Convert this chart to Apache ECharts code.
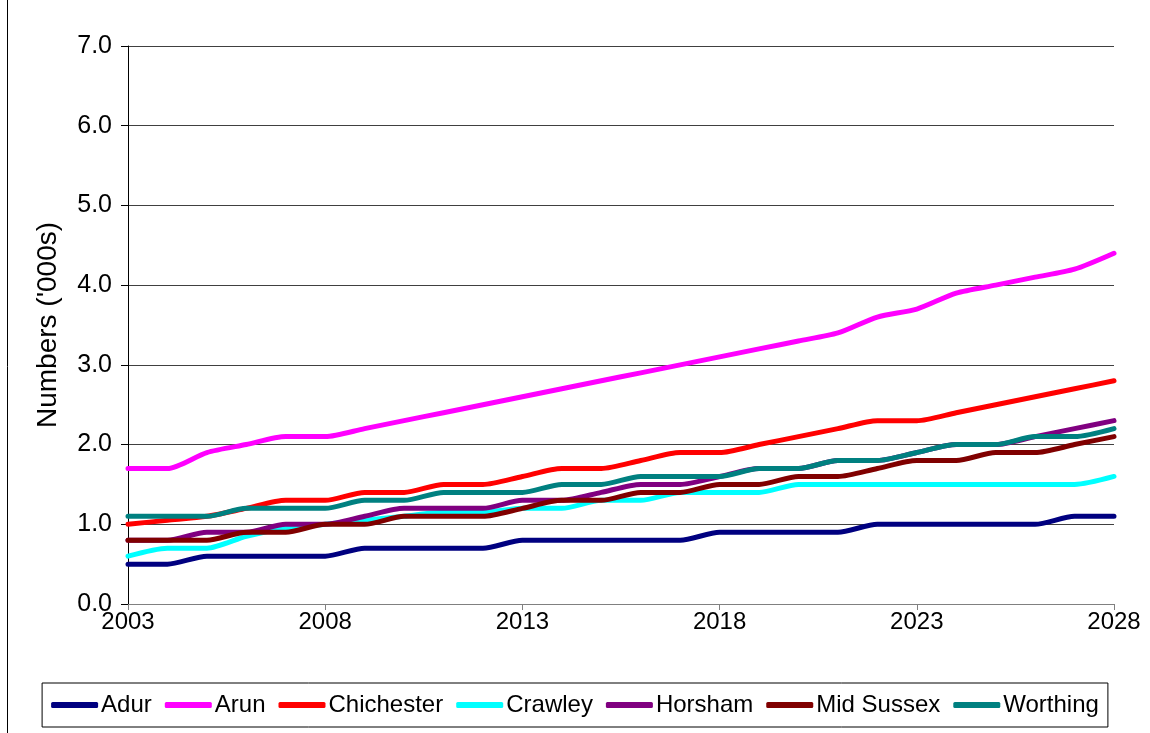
<!DOCTYPE html>
<html>
<head>
<meta charset="utf-8">
<script src="https://cdn.jsdelivr.net/npm/echarts@6/dist/echarts.min.js"></script>
<style>
html,body{margin:0;padding:0;background:#fff;}
#chart{width:1150px;height:733px;}
</style>
</head>
<body>
<div id="chart"></div>
<script>
const years = ['2003','2004','2005','2006','2007','2008','2009','2010','2011','2012','2013','2014','2015','2016','2017','2018','2019','2020','2021','2022','2023','2024','2025','2026','2027','2028'];
const adur       = [0.5,0.5,0.6,0.6,0.6,0.6,0.7,0.7,0.7,0.7,0.8,0.8,0.8,0.8,0.8,0.9,0.9,0.9,0.9,1.0,1.0,1.0,1.0,1.0,1.1,1.1];
const arun       = [1.7,1.7,1.9,2.0,2.1,2.1,2.2,2.3,2.4,2.5,2.6,2.7,2.8,2.9,3.0,3.1,3.2,3.3,3.4,3.6,3.7,3.9,4.0,4.1,4.2,4.4];
const chichester = [1.0,1.05,1.1,1.2,1.3,1.3,1.4,1.4,1.5,1.5,1.6,1.7,1.7,1.8,1.9,1.9,2.0,2.1,2.2,2.3,2.3,2.4,2.5,2.6,2.7,2.8];
const crawley    = [0.6,0.7,0.7,0.85,0.95,1.0,1.05,1.1,1.15,1.15,1.2,1.2,1.3,1.3,1.4,1.4,1.4,1.5,1.5,1.5,1.5,1.5,1.5,1.5,1.5,1.6];
const horsham    = [0.8,0.8,0.9,0.9,1.0,1.0,1.1,1.2,1.2,1.2,1.3,1.3,1.4,1.5,1.5,1.6,1.7,1.7,1.8,1.8,1.9,2.0,2.0,2.1,2.2,2.3];
const midSussex  = [0.8,0.8,0.8,0.9,0.9,1.0,1.0,1.1,1.1,1.1,1.2,1.3,1.3,1.4,1.4,1.5,1.5,1.6,1.6,1.7,1.8,1.8,1.9,1.9,2.0,2.1];
const worthing   = [1.1,1.1,1.1,1.2,1.2,1.2,1.3,1.3,1.4,1.4,1.4,1.5,1.5,1.6,1.6,1.6,1.7,1.7,1.8,1.8,1.9,2.0,2.0,2.1,2.1,2.2];

const seriesNames = ['Adur','Arun','Chichester','Crawley','Horsham','Mid Sussex','Worthing'];
const seriesData = [adur, arun, chichester, crawley, horsham, midSussex, worthing];
const colors = ['#000080','#FF00FF','#FF0000','#00FFFF','#800080','#800000','#008080'];

const FONT = '"Liberation Sans", Arial, sans-serif';

const chart = echarts.init(document.getElementById('chart'), null, {renderer:'canvas'});
chart.setOption({
  animation: false,
  backgroundColor: '#fff',
  color: colors,
  textStyle: {fontFamily: FONT},
  grid: {left: 128, right: 36, top: 46, bottom: 129, containLabel: false},
  graphic: [{
    type: 'line', shape: {x1: 7.5, y1: 0, x2: 7.5, y2: 733},
    style: {stroke: '#000', lineWidth: 1}, silent: true
  }],
  legend: {
    data: seriesNames,
    left: 'center',
    top: 683,
    padding: [10, 9],
    itemGap: 13,
    itemWidth: 47,
    itemHeight: 6,
    icon: 'roundRect',
    borderColor: '#000',
    borderWidth: 1,
    textStyle: {fontFamily: FONT, fontSize: 24, color: '#000', padding: [0,0,0,-2]}
  },
  xAxis: {
    type: 'category',
    data: years,
    boundaryGap: false,
    axisLine: {lineStyle: {color: '#808080', width: 1}},
    axisTick: {show: true, interval: 4, length: 6, lineStyle: {color: '#808080'}},
    axisLabel: {interval: 4, margin: 6, fontSize: 24, color: '#000', fontFamily: FONT},
    splitLine: {show: false}
  },
  yAxis: {
    type: 'value',
    min: 0, max: 7, interval: 1,
    name: "Numbers ('000s)",
    nameLocation: 'middle',
    nameRotate: 90,
    nameGap: 66,
    nameTextStyle: {fontSize: 28, color: '#000', fontFamily: FONT},
    axisLine: {show: true, lineStyle: {color: '#000', width: 1}},
    axisTick: {show: true, length: 7, lineStyle: {color: '#000'}},
    axisLabel: {margin: 16, fontSize: 25, color: '#000', fontFamily: FONT,
      formatter: v => v.toFixed(1)},
    splitLine: {show: true, lineStyle: {color: '#404040', width: 1}}
  },
  series: seriesNames.map((n, i) => ({
    name: n,
    type: 'line',
    data: seriesData[i],
    smooth: 0.25,
    showSymbol: false,
    symbol: 'none',
    lineStyle: {width: 5, color: colors[i], cap: 'round', join: 'round'},
    itemStyle: {color: colors[i]}
  }))
});
</script>
</body>
</html>
